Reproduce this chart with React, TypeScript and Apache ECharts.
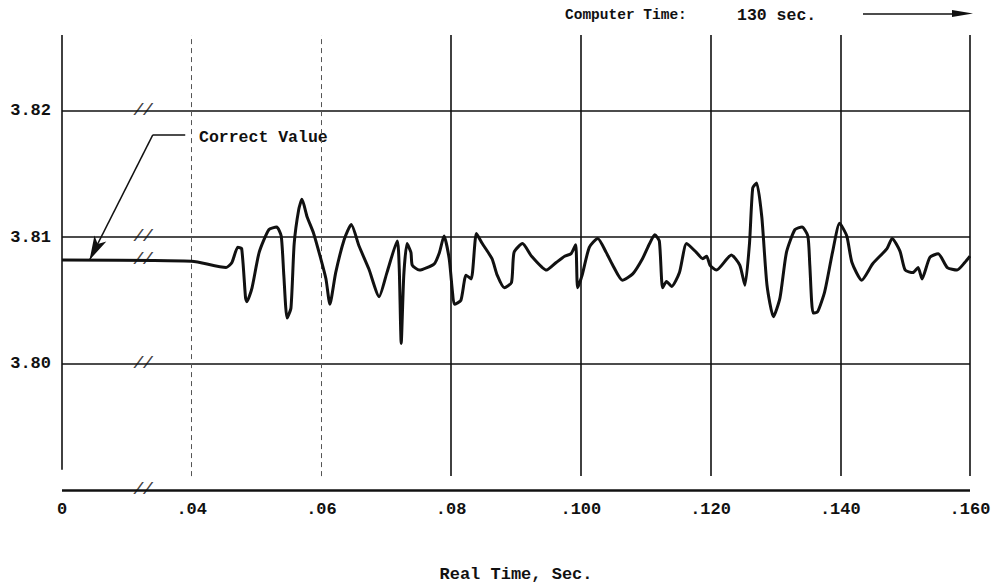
import React, { useEffect, useRef } from "react";
import * as echarts from "echarts";

// Real time (s) of each traced point of the response
const realTime = [
  0, 0.040, 0.0453, 0.0462, 0.0471, 0.0477, 0.0483, 0.0485, 0.0493, 0.0504,
  0.0519, 0.0531, 0.0538, 0.0542, 0.0547, 0.0553, 0.0558, 0.0565, 0.0570, 0.0578,
  0.0588, 0.0599, 0.0607, 0.0613, 0.0622, 0.0635, 0.0646, 0.0658, 0.0673, 0.0689,
  0.0701, 0.0717, 0.0720, 0.0723, 0.0727, 0.0732, 0.0738, 0.0740, 0.0751, 0.0774,
  0.0782, 0.0789, 0.0797, 0.0802, 0.0805, 0.0815, 0.0823, 0.0831, 0.0839, 0.0848,
  0.0863, 0.0871, 0.0882, 0.0893, 0.0897, 0.0910, 0.0924, 0.0947, 0.0962, 0.0975,
  0.0985, 0.0992, 0.0995, 0.1002, 0.1013, 0.1026, 0.1039, 0.1049, 0.1064, 0.1080,
  0.1095, 0.1106, 0.1114, 0.1121, 0.1126, 0.1132, 0.1140, 0.1152, 0.1163, 0.1178,
  0.1188, 0.1194, 0.1199, 0.1209, 0.1232, 0.1245, 0.1253, 0.1260, 0.1265, 0.1271,
  0.1279, 0.1287, 0.1297, 0.1307, 0.1317, 0.1330, 0.1341, 0.1350, 0.1353, 0.1358,
  0.1365, 0.1376, 0.1388, 0.1399, 0.1410, 0.1418, 0.1433, 0.1450, 0.1472, 0.1480,
  0.1492, 0.1500, 0.1512, 0.1520, 0.1526, 0.1538, 0.1551, 0.1565, 0.1580, 0.1592,
  0.1600,
];

// Computed value at each of those times
const computedValue = [
  3.8082, 3.8081, 3.8076, 3.8080, 3.8092, 3.8091, 3.8052, 3.8049, 3.8060, 3.8088,
  3.8106, 3.8108, 3.8101, 3.8070, 3.8036, 3.8044, 3.8095, 3.8122, 3.8130, 3.8116,
  3.8103, 3.8083, 3.8067, 3.8047, 3.8072, 3.8098, 3.8110, 3.8093, 3.8075, 3.8053,
  3.8072, 3.8097, 3.8075, 3.8016, 3.8070, 3.8095, 3.8088, 3.8078, 3.8074, 3.8079,
  3.8088, 3.8101, 3.8083, 3.8057, 3.8047, 3.8050, 3.8070, 3.8067, 3.8103, 3.8095,
  3.8083, 3.8070, 3.8060, 3.8064, 3.8088, 3.8095, 3.8085, 3.8074, 3.8080, 3.8085,
  3.8087, 3.8094, 3.8060, 3.8070, 3.8092, 3.8099, 3.8088, 3.8078, 3.8066, 3.8071,
  3.8083, 3.8095, 3.8102, 3.8097, 3.8060, 3.8065, 3.8061, 3.8072, 3.8095, 3.8088,
  3.8083, 3.8085, 3.8078, 3.8074, 3.8086, 3.8078, 3.8062, 3.8095, 3.8139, 3.8143,
  3.8116, 3.8062, 3.8037, 3.8052, 3.8088, 3.8106, 3.8108, 3.8101, 3.8078, 3.8040,
  3.8041, 3.8057, 3.8088, 3.8111, 3.8101, 3.8080, 3.8066, 3.8079, 3.8091, 3.8099,
  3.8089, 3.8074, 3.8072, 3.8076, 3.8067, 3.8084, 3.8087, 3.8076, 3.8074, 3.8080,
  3.8085,
];

const correctValue = 3.8082;

// Axis ticks (real-time values) and their printed labels
const xTickTimes = [0, 0.04, 0.06, 0.08, 0.1, 0.12, 0.14, 0.16];
const xTickLabels = ["0", ".04", ".06", ".08", ".100", ".120", ".140", ".160"];
const yTickValues = [3.8, 3.81, 3.82];
const yTickLabels = ["3.80", "3.81", "3.82"];

const solidGridTimes = [0.08, 0.1, 0.12, 0.14, 0.16];
const dashedGridTimes = [0.04, 0.06];
const breakMarkValues = [3.82, 3.81, 3.8082, 3.8, 3.79];

const FONT = "Liberation Mono";

// Broken time axis: 0..0.04 is squeezed into one 0.02 division
const pos = (t: number) => (t < 0.04 ? 0.02 + t / 2 : t);

export default function App() {
  const ref = useRef<HTMLDivElement>(null);

  useEffect(() => {
    if (!ref.current) return;
    const chart = echarts.init(ref.current, null, { renderer: "svg" });

    const yBottom = 3.79;
    const yTop = 3.826;
    const breakX = 0.0325;

    const lineData = realTime.map((t, i) => [pos(t), computedValue[i]]);

    const labelMap: Record<number, string> = {};
    xTickTimes.forEach((t, i) => {
      labelMap[Math.round(pos(t) * 1000)] = xTickLabels[i];
    });

    const solidSegs: any[] = [];
    yTickValues.forEach((v) => {
      solidSegs.push([{ coord: [0.02, v] }, { coord: [0.16, v] }]);
    });
    solidGridTimes.forEach((t) => {
      solidSegs.push([{ coord: [pos(t), 3.7911] }, { coord: [pos(t), yTop] }]);
    });
    solidSegs.push([{ coord: [0.02, 3.7916] }, { coord: [0.02, yTop] }]);

    const dashedSegs = dashedGridTimes.map((t) => [
      { coord: [pos(t), 3.7911] },
      { coord: [pos(t), yTop] },
    ]);

    const option: any = {
      animation: false,
      backgroundColor: "#ffffff",
      grid: { left: 62, right: 25, top: 35, bottom: 89, containLabel: false },
      xAxis: {
        type: "value",
        min: 0.02,
        max: 0.16,
        interval: 0.02,
        name: "Real Time, Sec.",
        nameLocation: "middle",
        nameGap: 76,
        nameTextStyle: { fontFamily: FONT, fontSize: 17, fontWeight: "bold", color: "#111" },
        axisLine: { show: false },
        axisTick: { show: false },
        splitLine: { show: false },
        axisLabel: {
          margin: 11,
          fontFamily: FONT,
          fontSize: 17,
          fontWeight: "bold",
          color: "#111",
          formatter: (v: number) => labelMap[Math.round(v * 1000)] ?? "",
        },
      },
      yAxis: {
        type: "value",
        min: yBottom,
        max: yTop,
        axisLine: { show: false },
        axisTick: { show: false },
        splitLine: { show: false },
        axisLabel: {
          customValues: yTickValues,
          margin: 11,
          fontFamily: FONT,
          fontSize: 17,
          fontWeight: "bold",
          color: "#111",
          formatter: (v: number) => {
            const i = yTickValues.findIndex((y) => Math.abs(y - v) < 1e-6);
            return i >= 0 ? yTickLabels[i] : "";
          },
        },
      },
      series: [
        {
          type: "line",
          data: [],
          silent: true,
          markLine: {
            silent: true,
            symbol: ["none", "none"],
            label: { show: false },
            lineStyle: { color: "#111", width: 1.6, type: "solid" },
            data: solidSegs,
          },
        },
        {
          type: "line",
          data: [],
          silent: true,
          markLine: {
            silent: true,
            symbol: ["none", "none"],
            label: { show: false },
            lineStyle: { color: "#555", width: 1, type: [5, 4] },
            data: dashedSegs,
          },
        },
        {
          type: "line",
          data: [],
          silent: true,
          markLine: {
            silent: true,
            symbol: ["none", "none"],
            label: { show: false },
            lineStyle: { color: "#111", width: 2.6, type: "solid" },
            data: [[{ coord: [0.02, yBottom] }, { coord: [0.16, yBottom] }]],
          },
        },
        {
          type: "line",
          data: lineData,
          showSymbol: false,
          symbol: "none",
          smooth: 0.2,
          lineStyle: { color: "#111", width: 3 },
          z: 5,
        },
        {
          type: "line",
          data: [],
          silent: true,
          markLine: {
            silent: true,
            label: { show: false },
            lineStyle: { color: "#111", width: 1.5, type: "solid" },
            data: [
              [
                { coord: [0.034, 3.8181], symbol: "none" },
                { coord: [pos(0.0085), correctValue], symbol: "arrow", symbolSize: [10, 24] },
              ],
              [
                { coord: [0.034, 3.8181], symbol: "none" },
                { coord: [0.039, 3.8181], symbol: "none" },
              ],
            ],
          },
        },
        {
          type: "scatter",
          silent: true,
          symbolSize: 0,
          data: breakMarkValues.map((v) => [breakX, v]),
          label: {
            show: true,
            position: "inside",
            formatter: "//",
            fontFamily: FONT,
            fontSize: 16,
            fontStyle: "italic",
            fontWeight: "bold",
            color: "#111",
          },
          z: 6,
        },
      ],
      graphic: [
        {
          type: "text",
          style: {
            text: "Correct Value",
            x: 199,
            y: 137,
            verticalAlign: "middle",
            font: `bold 16.5px "${FONT}"`,
            fill: "#111",
          },
        },
        {
          type: "text",
          style: {
            text: "Computer Time:",
            x: 565,
            y: 15,
            verticalAlign: "middle",
            font: `bold 14.5px "${FONT}"`,
            fill: "#111",
          },
        },
        {
          type: "text",
          style: {
            text: "130 sec.",
            x: 737,
            y: 15,
            verticalAlign: "middle",
            font: `bold 16.5px "${FONT}"`,
            fill: "#111",
          },
        },
        {
          type: "line",
          shape: { x1: 863, y1: 14, x2: 958, y2: 14 },
          style: { stroke: "#111", lineWidth: 1.4 },
        },
        {
          type: "polygon",
          shape: { points: [[952, 10], [973, 13.5], [952, 17]] },
          style: { fill: "#111" },
        },
      ],
    };

    chart.setOption(option);
    return () => chart.dispose();
  }, []);

  return (
    <div
      ref={ref}
      style={{ position: "fixed", left: 0, top: 0, width: 995, height: 588, background: "#fff" }}
    />
  );
}
